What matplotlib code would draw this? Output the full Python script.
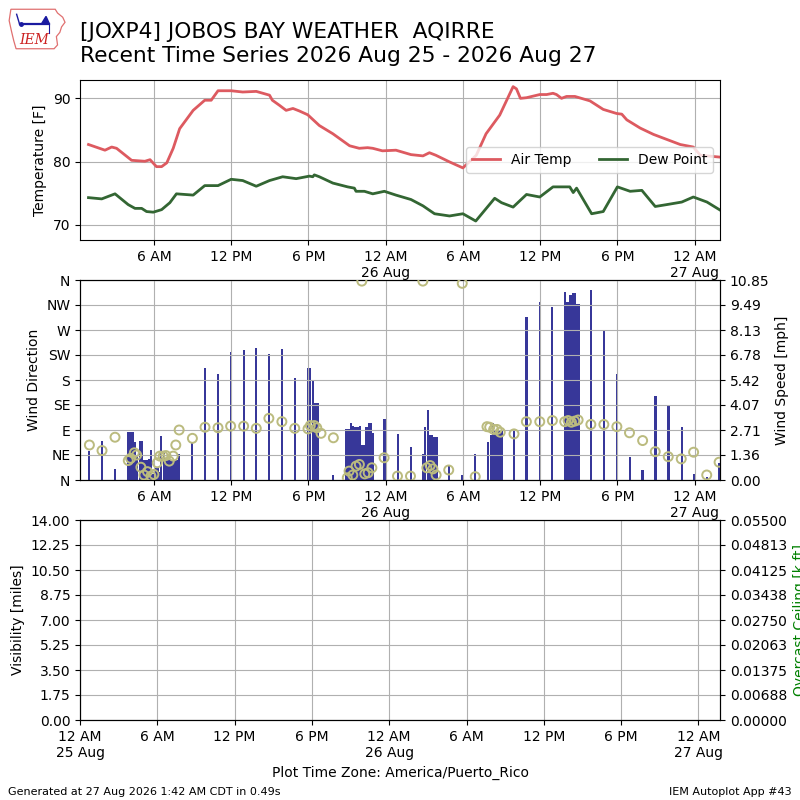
import matplotlib
matplotlib.use("Agg")
import matplotlib.pyplot as plt
import numpy as np
from matplotlib.patches import Polygon
from matplotlib.ticker import FormatStrFormatter

# ---------------- data (hours since 12 AM 25 Aug, America/Puerto_Rico) ----------------
temp_hours = [0.92, 2.2, 2.72, 3.1, 4.27, 5.3, 5.7, 6.2, 6.6, 7.0, 7.5, 8.0, 9.05, 9.95,
              10.45, 10.98, 12.0, 12.9, 13.95, 14.98, 15.2, 15.75, 16.27, 16.8, 17.3, 17.95,
              18.85, 19.9, 21.2, 21.95, 22.6, 23.0, 23.75, 24.8, 25.97, 26.9, 27.4, 27.9,
              28.96, 30.0, 31.04, 31.8, 32.86, 33.9, 34.16, 34.47, 34.94, 35.97, 36.5, 37.0,
              37.27, 37.66, 38.05, 38.7, 39.87, 40.9, 41.95, 42.34, 42.73, 43.77, 44.8, 45.84,
              46.88, 47.9, 48.44, 50.0]
air_temp = [82.7, 81.8, 82.3, 82.1, 80.2, 80.05, 80.3, 79.2, 79.2, 79.8, 82.1, 85.2, 88.1, 89.7,
            89.7, 91.2, 91.2, 91.0, 91.1, 90.5, 89.7, 88.9, 88.1, 88.4, 88.0, 87.4,
            85.7, 84.4, 82.5, 82.1, 82.2, 82.1, 81.7, 81.8, 81.1, 80.9, 81.4, 81.0,
            79.95, 79.0, 81.0, 84.4, 87.35, 91.85, 91.5, 90.0, 90.1, 90.6, 90.6, 90.8,
            90.6, 90.0, 90.3, 90.3, 89.6, 88.25, 87.6, 87.5, 86.6, 85.3, 84.3, 83.5,
            82.7, 82.3, 81.0, 80.7]

dew_hours = [0.92, 1.95, 2.98, 4.0, 4.53, 5.05, 5.43, 5.95, 6.6, 7.24, 7.75, 9.05, 9.95, 10.98,
             12.0, 12.9, 13.95, 14.98, 16.0, 17.05, 18.08, 18.34, 18.46, 18.85, 19.9, 21.05,
             21.57, 21.7, 22.35, 23.0, 23.9, 24.8, 25.97, 26.9, 27.4, 27.8, 28.96, 30.0, 31.0,
             32.47, 33.0, 33.9, 34.94, 35.97, 37.0, 38.3, 38.57, 38.83, 40.0, 40.9, 42.0,
             42.99, 43.9, 44.94, 45.84, 47.0, 47.9, 48.96, 50.0]
dew_point = [74.3, 74.1, 74.9, 73.2, 72.6, 72.6, 72.1, 72.0, 72.4, 73.5, 74.9, 74.7, 76.2, 76.2,
             77.2, 77.0, 76.1, 77.0, 77.6, 77.3, 77.7, 77.6, 77.9, 77.6, 76.6, 76.0,
             75.8, 75.3, 75.3, 74.9, 75.3, 74.7, 74.0, 73.0, 72.3, 71.75, 71.4, 71.75, 70.6,
             74.2, 73.5, 72.8, 74.8, 74.4, 76.0, 76.0, 75.1, 75.8, 71.75, 72.1, 76.0,
             75.3, 75.45, 72.9, 73.2, 73.6, 74.4, 73.6, 72.3]

speed_hours = [0.99, 1.97, 2.98,
               4.00, 4.17, 4.34, 4.51, 4.70, 4.92, 5.09, 5.26, 5.43, 5.60, 5.77, 5.94, 6.11,
               6.28, 6.42, 6.58, 6.79, 6.96, 7.13, 7.30, 7.47, 7.64, 7.81, 7.98,
               8.97, 9.97, 10.98, 12.0, 12.97, 13.95, 14.95, 15.94, 16.94,
               17.95, 18.12, 18.36, 18.55, 18.72, 19.94,
               20.96, 21.12, 21.30, 21.48, 21.66, 21.84, 22.00, 22.17, 22.34, 22.51, 22.68,
               22.85, 23.00, 23.91, 24.93, 25.95,
               26.90, 27.08, 27.28, 27.45, 27.62, 27.79, 27.96, 28.90, 29.90, 30.94,
               31.95, 32.16, 32.35, 32.52, 32.69, 32.86, 33.00, 33.97, 34.94, 35.97, 36.94,
               37.92, 38.12, 38.36, 38.55, 38.72, 38.90, 38.98, 39.97, 40.99, 41.97, 42.96,
               43.95, 44.96, 45.97, 46.99, 47.97, 48.96, 49.90]
wind_speed = [1.57, 2.12, 0.60,
              2.60, 2.60, 2.60, 2.06, 1.25, 2.10, 2.10, 1.10, 1.10, 1.12, 1.63, 0.30, 0.65,
              0.63, 0.45, 2.39, 1.45, 1.08, 1.08, 1.08, 1.08, 1.08, 1.08, 1.41,
              1.99, 6.06, 5.75, 6.94, 7.05, 7.16, 6.83, 7.10, 5.53,
              6.07, 6.07, 5.37, 4.19, 4.19, 0.27,
              2.75, 2.75, 3.07, 2.95, 2.89, 2.89, 2.92, 1.90, 1.90, 2.89, 3.07,
              3.07, 2.56, 3.31, 2.50, 1.78,
              1.40, 2.87, 3.80, 2.44, 2.44, 2.33, 2.33, 0.80, 0.27, 1.40,
              2.04, 2.44, 3.07, 2.71, 2.71, 2.71, 2.71, 2.75, 8.86, 9.66, 9.40,
              10.20, 9.67, 10.03, 10.12, 10.12, 9.55, 9.55, 10.30, 8.08, 5.75, 1.23,
              0.54, 4.56, 4.01, 2.87, 0.31, 0.16, 0.90]

dir_hours = [0.99, 1.97, 2.98, 4.01, 4.19, 4.48, 4.66, 4.99, 5.23, 5.50, 5.77, 6.00, 6.26,
             6.46, 6.72, 6.93, 7.19, 7.50, 7.70, 7.96, 8.99, 9.97, 10.98, 11.96, 12.97,
             13.95, 14.93, 15.94, 16.94, 17.97, 18.15, 18.46, 18.65, 18.98, 19.94,
             21.02, 21.16, 21.45, 21.70, 21.96, 22.15, 22.38, 22.64, 22.93, 23.88, 24.92,
             25.93, 26.89, 27.20, 27.46, 27.67, 27.92, 28.90, 29.95, 30.96, 31.87, 32.08,
             32.39, 32.65, 32.90, 33.97, 34.93, 35.97, 36.95, 37.91, 38.17, 38.43, 38.69,
             38.95, 39.94, 40.95, 41.96, 42.94, 43.96, 44.94, 45.95, 46.96, 47.92, 48.94, 49.90]
wind_dir = [63, 53, 77, 35, 39, 49, 45, 23, 9, 15, 7, 10, 31,
            43, 43, 44, 34, 43, 63, 90, 75, 95, 94, 97, 97,
            93, 111, 105, 93, 92, 98, 98, 94, 84, 76,
            4, 16, 9, 25, 28, 358, 11, 13, 22, 40, 7,
            7, 358, 22, 26, 20, 9, 18, 354, 6, 96, 95,
            91, 91, 86, 83, 105, 105, 107, 105, 107, 104, 106,
            108, 100, 100, 96, 85, 71, 51, 42, 38, 50, 9, 32]

tick_hours = [0, 6, 12, 18, 24, 30, 36, 42, 48]
tick_labels = ["12 AM\n25 Aug", "6 AM", "12 PM", "6 PM", "12 AM\n26 Aug",
               "6 AM", "12 PM", "6 PM", "12 AM\n27 Aug"]
dir_ticks = [0, 45, 90, 135, 180, 225, 270, 315, 360]
dir_labels = ["N", "NE", "E", "SE", "S", "SW", "W", "NW", "N"]

title = ("[JOXP4] JOBOS BAY WEATHER  AQIRRE\n"
         "Recent Time Series 2026 Aug 25 - 2026 Aug 27")

# ---------------- figure ----------------
fig = plt.figure(figsize=(8, 8), dpi=100)

fig.text(0.1, 0.918, title, fontsize=15.7, va="bottom", ha="left", linespacing=1.2)

# simple IEM logo
lax = fig.add_axes([0.01, 0.9375, 0.072, 0.0525])
lax.set_xlim(0, 1)
lax.set_ylim(0, 1)
lax.axis("off")
iowa = [(0.05, 0.97), (0.82, 0.97), (0.86, 0.88), (0.95, 0.78), (0.99, 0.66),
        (0.93, 0.55), (0.9, 0.42), (0.84, 0.32), (0.86, 0.12), (0.8, 0.03),
        (0.14, 0.03), (0.1, 0.22), (0.06, 0.45), (0.02, 0.7), (0.05, 0.97)]
lax.add_patch(Polygon(iowa, closed=True, fill=False, ec="#e07070", lw=0.9))
lax.plot([0.2, 0.72], [0.62, 0.62], color="#1a1aa0", lw=1.6)
lax.plot([0.22], [0.62], marker="o", color="#1a1aa0", ms=2.5)
lax.plot([0.2, 0.15], [0.62, 0.85], color="#1a1aa0", lw=1.0)
lax.add_patch(Polygon([(0.58, 0.62), (0.66, 0.8), (0.72, 0.62)], closed=True,
                      color="#1a1aa0"))
lax.plot([0.72, 0.72], [0.62, 0.4], color="#1a1aa0", lw=0.8)
lax.text(0.45, 0.24, "IEM", color="#cc2020", fontsize=10, fontstyle="italic",
         family="DejaVu Serif", ha="center", va="center")

# ---------------- temperature panel ----------------
ax1 = fig.add_axes([0.1, 0.7, 0.8, 0.2])
ax1.plot(temp_hours, air_temp, color="#dd5a60", lw=2, label="Air Temp")
ax1.plot(dew_hours, dew_point, color="#336633", lw=2, label="Dew Point")
ax1.set_xticks(tick_hours)
ax1.set_xticklabels(tick_labels)
ax1.set_yticks([70, 80, 90])
ax1.set_xlim(0.26, 49.97)
ax1.set_ylim(67.6, 92.9)
ax1.grid(True)
ax1.set_ylabel("Temperature [F]")
ax1.legend(loc="center right", ncol=2)

# ---------------- wind panel ----------------
axw = fig.add_axes([0.1, 0.4, 0.8, 0.25])
axs = axw.twinx()
axs.bar(speed_hours, wind_speed, width=0.17, color="#373799", zorder=1)
axs.set_yticks(np.linspace(0, 10.846, 9))
axs.yaxis.set_major_formatter(FormatStrFormatter("%.2f"))
axs.set_ylim(0, 10.846)
axs.set_ylabel("Wind Speed [mph]")

axw.set_zorder(axs.get_zorder() + 1)
axw.patch.set_visible(False)
axw.scatter(dir_hours, wind_dir, s=42, facecolors="none", edgecolors="#bbbb7f",
            linewidths=1.4, zorder=3)
axw.set_yticks(dir_ticks)
axw.set_yticklabels(dir_labels)
axw.set_ylim(0, 360)
axw.set_ylabel("Wind Direction")
axw.set_xticks(tick_hours)
axw.set_xticklabels(tick_labels)
axw.set_xlim(0.26, 49.97)
axw.grid(True)

# ---------------- visibility / ceiling panel ----------------
axv = fig.add_axes([0.1, 0.1, 0.8, 0.25])
axv.set_yticks(np.linspace(0, 14, 9))
axv.yaxis.set_major_formatter(FormatStrFormatter("%.2f"))
axv.set_xticks(tick_hours)
axv.set_xticklabels(tick_labels)
axv.set_xlim(0, 49.67)
axv.set_ylim(0, 14)
axv.grid(True)
axv.set_ylabel("Visibility [miles]")
axv.set_xlabel("Plot Time Zone: America/Puerto_Rico")

axc = axv.twinx()
axc.set_yticks(np.linspace(0, 0.055, 9))
axc.yaxis.set_major_formatter(FormatStrFormatter("%.5f"))
axc.set_ylim(0, 0.055)
axc.set_ylabel("Overcast Ceiling [k ft]", color="green")

fig.text(0.01, 0.006, "Generated at 27 Aug 2026 1:42 AM CDT in 0.49s", fontsize=8)
fig.text(0.99, 0.006, "IEM Autoplot App #43", fontsize=8, ha="right")

fig.savefig("out.png", dpi=100)
